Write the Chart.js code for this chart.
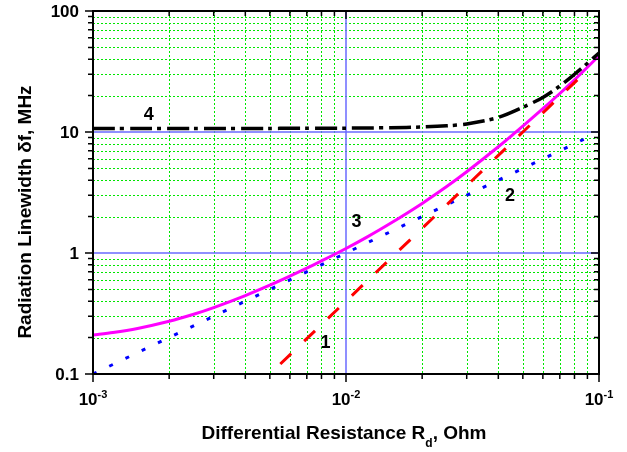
<!DOCTYPE html>
<html>
<head>
<meta charset="utf-8">
<script src="https://cdn.jsdelivr.net/npm/chart.js@4"></script>
<style>
  html, body { margin: 0; padding: 0; background: #fff; }
</style>
</head>
<body>
<canvas id="grafico" width="627" height="452"></canvas>
<script>
// Rd, Ohm (common grid for curves 3 and 4)
var rd = [0.001, 0.0012, 0.0015, 0.002, 0.0025, 0.003, 0.004, 0.005, 0.006, 0.007, 0.008,
          0.01, 0.012, 0.015, 0.02, 0.025, 0.03, 0.04, 0.05, 0.06, 0.07, 0.08, 0.09, 0.1];
// curve 3 - total linewidth (magenta)
var curve3 = [0.21, 0.22, 0.238, 0.273, 0.312, 0.354, 0.445, 0.542, 0.644, 0.75, 0.86,
              1.09, 1.34, 1.76, 2.57, 3.54, 4.69, 7.55, 11.2, 15.6, 20.8, 27, 34.3, 42.7];
// curve 4 - dash-dot (black)
var curve4 = [10.7, 10.7, 10.7, 10.7, 10.7, 10.7, 10.7, 10.71, 10.72, 10.73, 10.74,
              10.76, 10.79, 10.85, 11.0, 11.25, 11.65, 13.2, 16.0, 19.3, 24, 30, 37, 45];
// curve 1 - dashed (red)
var rd1 = [0.0055, 0.006, 0.007, 0.008, 0.01, 0.012, 0.015, 0.02, 0.025, 0.03, 0.04, 0.05, 0.06, 0.07, 0.08, 0.09];
var curve1 = [0.121, 0.144, 0.196, 0.256, 0.40, 0.576, 0.90, 1.6, 2.5, 3.6, 6.4, 10, 14.4, 19.6, 25.6, 32.4];
// curve 2 - dotted (blue)
var rd2 = [0.001, 0.002, 0.005, 0.01, 0.02, 0.05, 0.09];
var curve2 = [0.1, 0.2, 0.5, 1, 2, 5, 9];

var xTickLabels = [["10", "-3"], ["10", "-2"], ["10", "-1"]];
var xMajors = [0.001, 0.01, 0.1];
var yTickLabels = ["0.1", "1", "10", "100"];
var yMajors = [0.1, 1, 10, 100];
var refX = [0.01];
var refY = [1, 10];

// curve numbers, placed in data coordinates
var curveNames = ["1", "2", "3", "4"];
var curveNameAt = [[0.0083, 0.18], [0.0445, 2.96], [0.011, 1.8], [0.00166, 13.8]];

function pts(xs, ys) {
  return xs.map(function(x, i) { return {x: x, y: ys[i]}; });
}

function logTicks(lo, hi) {
  var t = [];
  for (var e = lo; e < hi; e++) {
    for (var m = 1; m < 10; m++) t.push(parseFloat((m * Math.pow(10, e)).toPrecision(3)));
  }
  t.push(Math.pow(10, hi));
  return t;
}
var xTicks = logTicks(-3, -1);
var yTicks = logTicks(-1, 2);

function isMajor(v) {
  var l = Math.log10(v);
  return Math.abs(l - Math.round(l)) < 1e-6;
}

var BOLD = 'bold 17px "Liberation Sans", Arial, sans-serif';

var overlay = {
  id: 'overlay',
  beforeDatasetsDraw: function(chart) {
    var ctx = chart.ctx, a = chart.chartArea, xs = chart.scales.x, ys = chart.scales.y;
    ctx.save();
    // dotted green minor grid
    ctx.strokeStyle = '#00e600';
    ctx.lineWidth = 1;
    ctx.setLineDash([2, 2]);
    xTicks.forEach(function(v) {
      if (isMajor(v)) return;
      var p = Math.round(xs.getPixelForValue(v)) + 0.5;
      ctx.beginPath(); ctx.moveTo(p, a.top); ctx.lineTo(p, a.bottom); ctx.stroke();
    });
    yTicks.forEach(function(v) {
      if (isMajor(v)) return;
      var p = Math.round(ys.getPixelForValue(v)) + 0.5;
      ctx.beginPath(); ctx.moveTo(a.left, p); ctx.lineTo(a.right, p); ctx.stroke();
    });
    ctx.setLineDash([]);
    // blue reference lines
    ctx.strokeStyle = '#6a6aff';
    ctx.lineWidth = 1.5;
    refX.forEach(function(v) {
      var p = xs.getPixelForValue(v);
      ctx.beginPath(); ctx.moveTo(p, a.top); ctx.lineTo(p, a.bottom); ctx.stroke();
    });
    refY.forEach(function(v) {
      var p = ys.getPixelForValue(v);
      ctx.beginPath(); ctx.moveTo(a.left, p); ctx.lineTo(a.right, p); ctx.stroke();
    });
    ctx.restore();
  },
  afterDraw: function(chart) {
    var ctx = chart.ctx, a = chart.chartArea, xs = chart.scales.x, ys = chart.scales.y;
    ctx.save();
    // ticks
    ctx.strokeStyle = '#000';
    ctx.lineWidth = 1.5;
    xTicks.forEach(function(v) {
      var p = xs.getPixelForValue(v), len = isMajor(v) ? 8 : 5;
      ctx.beginPath();
      ctx.moveTo(p, a.bottom); ctx.lineTo(p, a.bottom + len);
      ctx.moveTo(p, a.top); ctx.lineTo(p, a.top + len);
      ctx.stroke();
    });
    yTicks.forEach(function(v) {
      var p = ys.getPixelForValue(v), len = isMajor(v) ? 8 : 5;
      ctx.beginPath();
      ctx.moveTo(a.left, p); ctx.lineTo(a.left - len, p);
      ctx.moveTo(a.right, p); ctx.lineTo(a.right - len, p);
      ctx.stroke();
    });
    // frame
    ctx.lineWidth = 2;
    ctx.strokeRect(a.left, a.top, a.right - a.left, a.bottom - a.top);

    ctx.fillStyle = '#000';
    // y tick labels
    ctx.font = BOLD;
    ctx.textAlign = 'right';
    ctx.textBaseline = 'middle';
    yMajors.forEach(function(v, i) {
      ctx.fillText(yTickLabels[i], a.left - 14, ys.getPixelForValue(v) + 1);
    });
    // x tick labels with exponents
    ctx.textAlign = 'left';
    ctx.textBaseline = 'alphabetic';
    xMajors.forEach(function(v, i) {
      var p = xs.getPixelForValue(v);
      ctx.font = BOLD;
      var w1 = ctx.measureText(xTickLabels[i][0]).width;
      ctx.font = 'bold 11px "Liberation Sans", Arial, sans-serif';
      var w2 = ctx.measureText(xTickLabels[i][1]).width;
      var x0 = p - (w1 + w2) / 2;
      ctx.font = BOLD;
      ctx.fillText(xTickLabels[i][0], x0, 405);
      ctx.font = 'bold 11px "Liberation Sans", Arial, sans-serif';
      ctx.fillText(xTickLabels[i][1], x0 + w1, 398);
    });
    // x title with subscript
    var f1 = 'bold 19px "Liberation Sans", Arial, sans-serif';
    var f2 = 'bold 12px "Liberation Sans", Arial, sans-serif';
    var parts = [["Differential Resistance R", f1, 0], ["d", f2, 8], [", Ohm", f1, 0]];
    var total = 0;
    parts.forEach(function(p) { ctx.font = p[1]; total += ctx.measureText(p[0]).width; });
    var cx = 344 - total / 2;
    parts.forEach(function(p) {
      ctx.font = p[1];
      ctx.fillText(p[0], cx, 439 + p[2]);
      cx += ctx.measureText(p[0]).width;
    });
    // y title
    ctx.save();
    ctx.translate(31, 212);
    ctx.rotate(-Math.PI / 2);
    ctx.textAlign = 'center';
    ctx.font = f1;
    ctx.fillText("Radiation Linewidth \u03B4f, MHz", 0, 0);
    ctx.restore();
    // curve numbers
    ctx.font = 'bold 18px "Liberation Sans", Arial, sans-serif';
    ctx.textAlign = 'center';
    ctx.textBaseline = 'middle';
    curveNames.forEach(function(n, i) {
      ctx.fillText(n, xs.getPixelForValue(curveNameAt[i][0]), ys.getPixelForValue(curveNameAt[i][1]));
    });
    ctx.restore();
  }
};

var ctx = document.getElementById('grafico').getContext('2d');
var chart = new Chart(ctx, {
  type: 'line',
  data: {
    datasets: [
      { label: '4', data: pts(rd, curve4), borderColor: '#000', borderWidth: 3.5,
        borderDash: [22, 5, 4, 6], pointRadius: 0, tension: 0.3, fill: false },
      { label: '1', data: pts(rd1, curve1), borderColor: '#ff0000', borderWidth: 3,
        borderDash: [15, 18], pointRadius: 0, tension: 0, fill: false },
      { label: '2', data: pts(rd2, curve2), borderColor: '#0000ff', borderWidth: 3,
        borderDash: [4, 14], pointRadius: 0, tension: 0, fill: false },
      { label: '3', data: pts(rd, curve3), borderColor: '#ff00ff', borderWidth: 3,
        pointRadius: 0, tension: 0.3, fill: false }
    ]
  },
  options: {
    responsive: false,
    animation: false,
    layout: { padding: { top: 11, right: 28, left: 0, bottom: 0 } },
    plugins: { legend: { display: false }, tooltip: { enabled: false } },
    scales: {
      x: {
        type: 'logarithmic', min: 0.001, max: 0.1,
        afterBuildTicks: function(s) { s.ticks = xTicks.map(function(v) { return {value: v}; }); },
        afterFit: function(s) { s.height = 78; },
        ticks: { display: false },
        border: { display: false },
        grid: { display: false }
      },
      y: {
        type: 'logarithmic', min: 0.1, max: 100,
        afterBuildTicks: function(s) { s.ticks = yTicks.map(function(v) { return {value: v}; }); },
        afterFit: function(s) { s.width = 93; },
        ticks: { display: false },
        border: { display: false },
        grid: { display: false }
      }
    }
  },
  plugins: [overlay]
});
</script>
</body>
</html>
